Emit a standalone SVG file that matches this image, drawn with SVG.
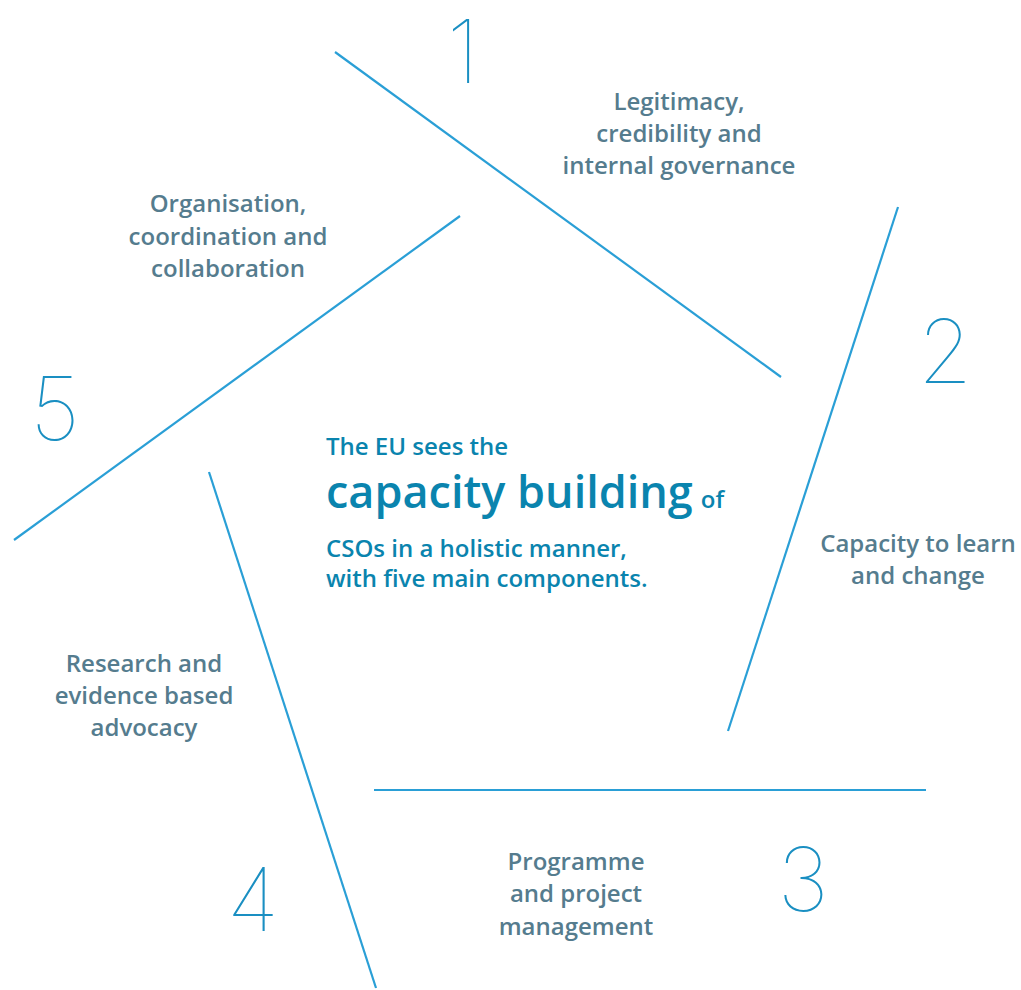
<svg xmlns="http://www.w3.org/2000/svg" width="1021" height="990" viewBox="0 0 1021 990">
<style>
.lbl{font-family:"Open Sans","Noto Sans",sans-serif;font-size:24px;font-weight:600;fill:#557c8e;text-anchor:middle}
.num{font-family:"Inter","Roboto",sans-serif;font-size:88px;font-weight:100;fill:#1a8fc2;text-anchor:middle}
.ctr{font-family:"Open Sans","Noto Sans",sans-serif;font-weight:600;fill:#0a84ae}
.ln{stroke:#2a9fd6;stroke-width:2.2;fill:none}
</style>
<rect width="1021" height="990" fill="#ffffff"/>
<g id="connectors">
<line class="ln" x1="335" y1="52" x2="781" y2="377"/>
<line class="ln" x1="898" y1="207" x2="728" y2="731"/>
<line class="ln" x1="374" y1="790" x2="926" y2="790"/>
<line class="ln" x1="209" y1="472" x2="376" y2="988"/>
<line class="ln" x1="14" y1="540" x2="460" y2="216"/>
</g>
<g id="node1">
<text class="num" x="463" y="83">1</text>
<text class="lbl" x="679" y="110">Legitimacy,</text>
<text class="lbl" x="679" y="142">credibility and</text>
<text class="lbl" x="679" y="174">internal governance</text>
</g>
<g id="node2">
<text class="num" x="945" y="383">2</text>
<text class="lbl" x="918" y="552">Capacity to learn</text>
<text class="lbl" x="918" y="584">and change</text>
</g>
<g id="node3">
<text class="num" x="803" y="911">3</text>
<text class="lbl" x="576" y="870">Programme</text>
<text class="lbl" x="576" y="902">and project</text>
<text class="lbl" x="576" y="935">management</text>
</g>
<g id="node4">
<text class="num" x="253" y="931">4</text>
<text class="lbl" x="144" y="672">Research and</text>
<text class="lbl" x="144" y="704">evidence based</text>
<text class="lbl" x="144" y="736">advocacy</text>
</g>
<g id="node5">
<text class="num" x="55" y="440">5</text>
<text class="lbl" x="228" y="212">Organisation,</text>
<text class="lbl" x="228" y="245">coordination and</text>
<text class="lbl" x="228" y="277">collaboration</text>
</g>
<g id="center">
<text class="ctr" x="326" y="455" font-size="24">The EU sees the</text>
<text class="ctr" x="326" y="508" font-size="45">capacity building<tspan font-size="24" dx="8">of</tspan></text>
<text class="ctr" x="326" y="557" font-size="24">CSOs in a holistic manner,</text>
<text class="ctr" x="326" y="587" font-size="24">with five main components.</text>
</g>
</svg>
